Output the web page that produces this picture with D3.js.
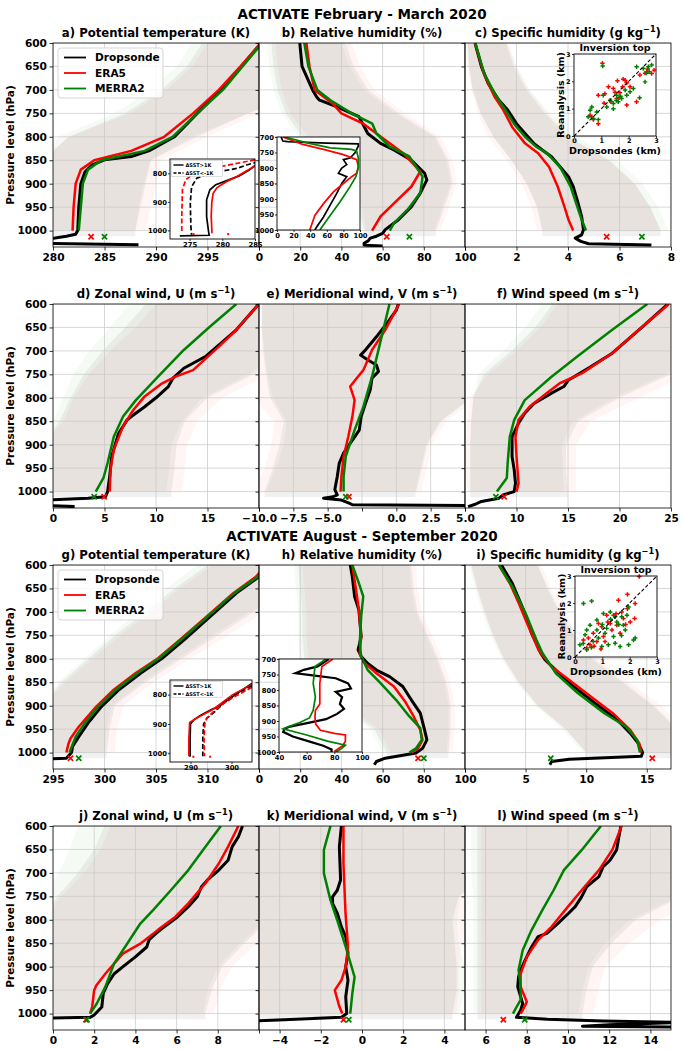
<!DOCTYPE html>
<html><head><meta charset="utf-8">
<script src="https://cdn.jsdelivr.net/npm/d3@7"></script>
<style>body{margin:0;background:#fff}svg{display:block;font-family:"DejaVu Sans",sans-serif;font-weight:bold}</style>
</head><body><svg id="c" width="682" height="1050"></svg>
<script>
// ---------------- DATA ([pressure hPa, value]) ----------------
const pressureTicks=[600,650,700,750,800,850,900,950,1000];
// a) potential temperature Feb-Mar
const aDrop=[[600,300.2],[650,298.3],[700,296.3],[750,294],[800,291.8],[830,289.3],[842,287.6],[849,285],[860,283.8],[875,283.1],[900,282.7],[950,282.5],[1000,282.4],[1008,282.2],[1012,281.3],[1016,280.2],[1019,279],[1027,279],[1030,288.3]];
const aEra=[[600,300.2],[650,298.2],[700,296.1],[750,293.6],[800,290.8],[830,287.6],[850,284],[870,282.7],[900,282.2],[950,282],[1000,281.9]];
const aMerra=[[600,300.3],[650,298.4],[700,296.5],[750,294],[800,291.6],[830,288.9],[850,284.7],[870,283.4],[900,282.9],[950,282.7],[1000,282.5]];
const aMarks=[[1013,283.7],[1013,285]];
const aBand=[[600,294.5,306,295,306,293.5,306],[650,293,306,293.5,306,292,306],[700,290.5,305,291,305.5,289.5,305],[750,287,299,287.5,300,286,299],[800,281.5,294,281.5,295,280.5,293.5],[850,279,289.5,279,290.5,279,289.5],[900,279,289,279,290,279,288.8],[950,279,288.5,279,289.5,279,288.3],[1000,279,288,279,289,279,288],[1012,279,288,279,289,279,288]];
// b) relative humidity Feb-Mar
const bDrop=[[600,19.8],[650,20.9],[680,24],[700,26],[715,28],[722,29.4],[736,37.9],[757,48.5],[793,52.8],[814,59],[828,65.5],[850,74],[878,80.4],[892,81.5],[920,78.3],[949,74],[977,67.7],[998,61.3],[1006,60],[1012,57],[1016,54],[1022,53],[1027,51],[1031,51],[1033,60]];
const bEra=[[600,23],[650,24.5],[700,27],[729,35.7],[750,40],[772,50.6],[807,61.3],[835,70],[874,78.3],[906,74],[942,65.5],[970,59],[1000,54.9]];
const bMerra=[[600,22],[650,24],[700,28.3],[722,34.7],[750,45],[772,55],[793,57],[821,63.4],[842,73],[885,79.4],[920,78.3],[956,72],[984,65.5],[1000,63.5]];
const bMarks=[[1013,62],[1013,73]];
const bBand=[[600,6,42,8,45,4,40],[650,7,46,9,49,5,44],[700,9,53,11,56,7,51],[750,13,68,15,71,11,66],[800,21,86,24,88,19,85],[850,35,92,38,94,33,91],[900,44,94,46,96,42,93],[950,48,90,50,92,46,89],[1000,51,86,52,88,49,85],[1012,51,86,52,88,49,85]];
// c) specific humidity Feb-Mar
const cDrop=[[600,0.39],[651,0.64],[686,0.9],[708,1.15],[722,1.32],[743,1.66],[772,2.0],[793,2.33],[814,2.67],[828,3.0],[842,3.35],[864,3.69],[885,4.02],[906,4.2],[935,4.36],[970,4.53],[998,4.6],[1009,4.53],[1016,4.28],[1023,4.5],[1028,4.8],[1031,7.24]];
const cEra=[[600,0.39],[665,0.73],[715,1.15],[743,1.49],[779,1.83],[814,2.33],[835,2.84],[864,3.26],[906,3.6],[949,3.86],[977,4.02],[1000,4.2]];
const cMerra=[[600,0.4],[665,0.75],[708,1.15],[736,1.49],[772,1.9],[800,2.33],[821,2.76],[835,3.18],[864,3.69],[906,4.1],[949,4.36],[977,4.53],[1000,4.7]];
const cMarks=[[1013,5.5],[1013,6.87]];
const cBand=[[600,0.1,1.6,0.05,1.7,0.1,1.6],[650,0.15,1.9,0.1,2.0,0.15,2.0],[700,0.3,2.4,0.25,2.5,0.3,2.5],[750,0.6,3.1,0.5,3.2,0.6,3.3],[800,1.1,4.0,0.9,4.1,1.1,4.3],[850,1.8,5.6,1.6,5.6,1.8,5.9],[900,2.4,6.6,2.2,6.6,2.4,6.9],[950,2.8,7.2,2.6,7.2,2.8,7.5],[1000,3.0,7.6,2.8,7.6,3.0,7.9],[1012,3.0,7.6,2.8,7.6,3.0,7.9]];
// d) zonal wind Feb-Mar
const dDrop=[[602,19.9],[655,17.8],[712,14.8],[737,12.7],[758,11.65],[776,11.2],[800,10],[819,8.9],[840,7.6],[847,7.2],[876,6.36],[925,5.7],[968,5.5],[1000,5.3],[1011,5.1],[1014,3.4],[1018,-0.5],[1030,-0.5],[1032,2.1]];
const dEra=[[600,20],[655,17.8],[691,16.1],[741,13.6],[755,11.9],[769,10.6],[797,8.9],[826,7.8],[861,6.8],[911,5.9],[950,5.6],[1000,5.5]];
const dMerra=[[600,17.8],[648,15.25],[698,12.7],[755,10.2],[805,8.05],[840,6.8],[883,5.9],[939,5.3],[971,4.9],[1000,4.15]];
const dMarks=[[1011,4.96],[1011,4.0]];
const dBand=[[600,9,25,10,25,7.5,25],[650,7,25,8,25,5.5,25],[700,4.8,24,5.5,25,3.5,22.5],[750,3,19.5,3.5,21,2,19],[800,1.7,15,2,16.5,1,14.5],[850,0.6,12.8,1,14,0,12.5],[900,-1,12,-1,13,-1,11.5],[950,-1,11.8,-1,12.8,-1,11.3],[1000,-1,11.5,-1,12.5,-1,11],[1012,-1,11.5,-1,12.5,-1,11]];
// e) meridional wind Feb-Mar
const eDrop=[[600,0.15],[613,0],[634,-0.5],[670,-1.45],[698,-2.25],[709,-2.6],[719,-2.1],[730,-1.45],[744,-1.3],[758,-1.77],[783,-1.9],[812,-2.25],[840,-2.56],[869,-2.7],[897,-3.36],[918,-3.84],[940,-4.16],[968,-4.3],[996,-4.48],[1007,-4.3],[1011,-4.6],[1014,-5.3],[1018,-4],[1025,-3.4],[1028,-3.2],[1030,5.5]];
const eEra=[[600,0.2],[655,-0.8],[698,-1.77],[741,-2.4],[755,-2.8],[776,-3.36],[790,-3.2],[805,-3.04],[840,-3.2],[883,-3.5],[925,-3.84],[968,-4],[1000,-4.06]];
const eMerra=[[600,-0.5],[677,-1.13],[755,-1.77],[819,-2.4],[869,-3.04],[925,-3.68],[968,-3.84],[1000,-3.84]];
const eMarks=[[1011,-3.45],[1011,-3.68]];
const eBand=[[600,-9.8,6,-9.8,6,-9.8,6],[650,-9.8,6,-9.8,6,-9.8,6],[700,-9.7,6,-9.9,6,-9.6,6],[750,-9.5,6,-10.5,6,-9.4,6],[800,-9.2,5.5,-10.5,6,-9,5.5],[850,-8.2,3.2,-8.9,3.6,-8,3.3],[900,-8.5,2.2,-9.1,2.6,-8.2,2.3],[950,-9,1.8,-9.6,2.2,-8.8,1.9],[1000,-9.6,1.4,-10.5,1.8,-9.5,1.5],[1012,-9.6,1.4,-10.5,1.8,-9.5,1.5]];
// f) wind speed Feb-Mar
const fDrop=[[602,24.6],[648,22.25],[705,19.3],[734,17.2],[762,15.06],[776,14.6],[790,13.4],[812,11.7],[833,10.8],[854,10.2],[883,9.57],[925,9.57],[954,9.78],[982,9.9],[1000,9.78],[1007,8.7],[1014,8.3],[1021,6.6],[1027,6],[1032,5.3]];
const fEra=[[600,24.8],[648,22.25],[705,19.3],[748,16.33],[769,14.2],[790,12.95],[819,11.26],[847,10.2],[883,9.9],[925,10],[954,10.1],[982,10.2],[1000,10]];
const fMerra=[[600,22.7],[655,19.3],[712,15.9],[755,13.4],[805,10.8],[847,9.78],[883,9.35],[940,9.14],[971,9.06],[1000,8.1]];
const fMarks=[[1011,8.8],[1011,8.0]];
const fBand=[[600,13.5,27,14,27,12.5,27],[650,11.8,27,12.3,27,10.8,27],[700,9.5,27,10,27,8.7,27],[750,6.8,25,7.2,26.5,6.3,24.5],[800,5.8,20,5.5,22,5.8,19.5],[850,5.6,16,5.2,17.2,5.6,15.5],[900,5.5,14.8,5.1,15.8,5.5,14.4],[950,5.5,14.8,5.1,15.8,5.5,14.5],[1000,5.5,15,5.2,15.8,5.5,14.6],[1012,5.5,15,5.2,15.8,5.5,14.6]];
// g) potential temperature Aug-Sep
const gDrop=[[600,316],[625,315],[660,312.8],[710,310.25],[760,307.7],[799,305.6],[831,303.5],[866,301.4],[902,299.7],[937,298.4],[966,297.5],[987,296.9],[1000,296.8],[1012,296.3],[1014,294]];
const gEra=[[600,315.7],[625,314.7],[660,312.5],[710,309.9],[760,307.3],[799,305.2],[831,303],[866,300.9],[902,299.2],[945,297.5],[970,296.7],[981,296.5],[1000,296.3]];
const gMerra=[[600,315.8],[625,314.9],[660,312.6],[710,310],[760,307.4],[799,305.3],[831,303.2],[866,301.1],[902,299.4],[937,298.1],[966,297.2],[994,296.7],[1000,296.6]];
const gMarks=[[1012,296.7],[1012,297.5]];
const gBand=[[600,310,320,310.5,320,309,320],[650,306.8,320,307.3,320,306,320],[700,304,314.5,304.5,315.5,303.3,314],[750,301,311,301.5,312,300.5,310.5],[800,298.4,307.5,298.8,308.3,298,307],[850,295.8,304,296.2,304.8,295.5,303.6],[900,294,301,294,301.8,294,300.7],[950,294,300.5,294,301.2,294,300.2],[1000,294,300.2,294,301,294,300],[1012,294,300.2,294,301,294,300]];
// h) relative humidity Aug-Sep
const hDrop=[[600,44.3],[625,45.3],[667,46.4],[696,48.5],[753,49.6],[781,48.1],[795,49.6],[810,52.8],[824,57],[838,63.4],[859,69.8],[888,74],[916,78.3],[952,80.4],[973,81.5],[991,79.4],[1001,76.2],[1012,61.3],[1019,57],[1026,56]];
const hEra=[[600,45.3],[650,47],[696,48.5],[753,49.6],[788,48.9],[806,50.6],[831,57],[859,65.5],[891,70.9],[923,75.1],[952,78.3],[973,79.4],[991,77.2],[1000,74]];
const hMerra=[[600,45.3],[639,48.5],[667,50.6],[710,49.6],[767,48.9],[795,49.6],[824,52.8],[852,59],[888,66.6],[923,73],[948,78.3],[973,79],[991,76.2],[1000,73]];
const hMarks=[[1012,77.2],[1012,80]];
const hBand=[[600,19,74,21,76,17,73],[650,20,75,22,77,18,74],[700,21,77,23,79,19,76],[750,21,82,23,84,19,81],[800,22,87,24,89,20,86],[850,28,91,30,93,26,90],[900,40,93,42,95,38,92],[950,56,93,58,95,54,92],[1000,62,92,64,94,60,91],[1012,62,92,64,94,60,91]];
// i) specific humidity Aug-Sep
const iDrop=[[600,3.0],[639,3.9],[682,4.6],[717,5.16],[746,5.5],[767,5.9],[788,6.25],[802,6.6],[824,7.5],[859,8.95],[895,10.76],[930,12.56],[959,13.65],[980,14.3],[1000,14.66],[1008,14.55],[1014,8.6],[1019,7.15],[1026,7]];
const iEra=[[600,2.8],[639,3.7],[682,4.45],[717,5.0],[781,6.06],[817,7.15],[845,8.6],[881,10.4],[916,12.2],[952,13.65],[980,14.37],[1000,14.55]];
const iMerra=[[600,2.8],[646,3.9],[703,5.0],[760,5.9],[788,6.4],[831,7.5],[873,9.3],[916,11.5],[945,13.3],[973,14.2],[1000,14.44]];
const iMarks=[[1012,15.45],[1012,7.08]];
const iBand=[[600,0.5,6,0.5,6.3,0.3,6],[650,1,6.8,1,7.1,0.8,6.9],[700,1.6,7.8,1.6,8.2,1.4,8],[750,2.3,9,2.3,9.4,2.1,9.2],[800,3.2,10.5,3.2,11,3,10.7],[850,4.4,13,4.4,13.6,4.2,13.2],[900,6,15.5,6,16.2,5.8,15.7],[950,8.3,17.5,8.3,18,8,17.5],[1000,10,18,10,18,9.8,18],[1012,10,18,10,18,9.8,18]];
// j) zonal wind Aug-Sep
const jDrop=[[600,9.2],[623,9.0],[644,8.7],[673,8.5],[694,8.05],[715,7.5],[730,7.2],[751,7.0],[772,6.57],[794,6.04],[815,5.4],[829,5.0],[843,4.66],[858,4.55],[879,4.0],[900,3.4],[915,2.97],[936,2.65],[957,2.44],[986,2.37],[1003,2.0],[1008,1.8],[1010,-0.5]];
const jEra=[[600,9.0],[644,8.5],[680,8.05],[722,7.4],[765,6.57],[794,5.93],[822,5.08],[851,4.24],[872,3.39],[915,2.54],[940,2.1],[950,2.0],[986,1.9],[1000,1.8]];
const jMerra=[[600,8.15],[644,7.4],[694,6.57],[737,5.72],[779,4.87],[808,4.24],[851,3.6],[893,2.97],[943,2.54],[979,2.12],[1000,1.8]];
const jMarks=[[1013,1.6],[1013,1.65]];
const jBand=[[600,2.5,12,2.8,12,1.2,12],[650,2,12,2.3,12,0.8,12],[700,1.2,12,1.5,12,0.3,12],[750,0.2,11,0.4,11.5,-0.5,11],[800,-0.5,10.5,-0.5,11.2,-0.5,10.3],[850,-0.5,9.3,-0.5,9.9,-0.5,9.1],[900,-0.5,8.2,-0.5,8.7,-0.5,8],[950,-0.5,7.7,-0.5,8.1,-0.5,7.5],[1000,-0.5,7.4,-0.5,7.8,-0.5,7.3],[1012,-0.5,7.4,-0.5,7.8,-0.5,7.3]];
// k) meridional wind Aug-Sep
const kDrop=[[600,-1.0],[644,-1.1],[715,-1.04],[737,-1.2],[751,-1.43],[765,-1.43],[786,-1.2],[815,-1.0],[836,-0.79],[872,-0.68],[900,-0.79],[929,-0.68],[964,-0.79],[1000,-0.74],[1008,-1.0],[1013,-3.77],[1016,-5.5]];
const kEra=[[600,-0.9],[680,-0.9],[786,-0.8],[858,-0.68],[900,-0.79],[929,-1.0],[950,-1.32],[985,-1.1],[1000,-0.96]];
const kMerra=[[600,-1.53],[651,-1.85],[701,-1.85],[758,-1.53],[801,-1.2],[858,-0.79],[922,-0.36],[957,-0.47],[1000,-0.57]];
const kMarks=[[1013,-0.9],[1013,-0.64]];
const kBand=[[600,-6,6,-6,6,-6,6],[650,-6,6,-6,6,-6,6],[700,-6,6,-6,6,-6,6],[750,-6,4.7,-6,5.5,-6,4.8],[800,-6,4.4,-6,5.2,-6,4.6],[850,-6,4.5,-6,4.8,-6,4.7],[900,-6,4.6,-6,4.7,-6,5],[950,-6,4.6,-6,4.7,-6,5],[1000,-6,4.4,-6,4.6,-6,4.7],[1012,-6,4.4,-6,4.6,-6,4.7]];
// l) wind speed Aug-Sep
const lDrop=[[600,12.57],[625,12.46],[651,12.36],[673,12.04],[687,11.7],[708,11.5],[730,10.9],[751,10.66],[772,10.35],[786,10.03],[808,9.5],[829,8.97],[836,8.55],[858,8.23],[886,7.92],[907,7.7],[922,7.6],[943,7.56],[964,7.7],[979,7.8],[993,7.7],[1008,7.5],[1012,9],[1016,11.7],[1019,15.5],[1024,12],[1027,10.7],[1029,15.5]];
const lEra=[[600,12.6],[651,12.15],[694,11.5],[737,10.66],[772,10.0],[815,9.2],[843,8.55],[879,8.0],[915,7.7],[943,7.7],[964,7.9],[975,8.0],[993,7.8],[1000,7.7]];
const lMerra=[[600,11.6],[651,10.67],[694,9.8],[737,9.3],[779,8.76],[822,8.23],[865,7.8],[907,7.6],[943,7.7],[971,7.7],[986,7.5],[1000,7.33]];
const lMarks=[[1013,6.86],[1013,7.9]];
const lBand=[[600,5.6,17,5.8,17,5.3,17],[650,5.6,17,5.8,17,5.3,17],[700,5.6,17,5.8,17,5.3,17],[750,5.6,15.5,5.8,16.5,5.4,15.3],[800,5.6,13.3,5.8,14.5,5.4,13],[850,5.6,12.1,5.8,13,5.4,11.8],[900,5.6,11.2,5.8,11.8,5.4,11],[950,5.6,10.9,5.8,11.5,5.4,10.7],[1000,5.6,10.7,5.8,11.2,5.4,10.5],[1012,5.6,10.7,5.8,11.2,5.4,10.5]];

// inset a (theta by SST class, Feb-Mar)
const insA_dropWarm=[[765,285.5],[790,284],[810,282.5],[823,281],[840,279],[858,278.1],[893,277.6],[952,277.6],[1004,277.9],[1017,278],[1019,273.5]];
const insA_eraWarm=[[768,285.5],[790,283.8],[810,282.3],[830,280.6],[850,279.2],[870,278.6],[900,278.4],[950,278.3],[1000,278.4],[1010,278.4]];
const insA_dropCold=[[760,285.5],[771,283.7],[783,282.2],[800,278.1],[817,276.1],[847,275.3],[905,275.1],[987,275.2],[1015,275.3]];
const insA_eraCold=[[753,285],[777,279.6],[794,276.1],[823,274.4],[858,273.9],[952,273.8],[1010,273.8]];
const insA_dots=[[1013,275.6],[1013,280.9]];
// inset b (RH, Feb-Mar)
const insB_drop=[[700,5],[713,7],[715,13],[720,60],[722,98],[729,98],[751,94],[768,88],[773,80],[789,84],[800,78],[817,74],[828,84],[850,78],[882,72],[920,64],[958,56],[991,47.6],[1000,45.6]];
const insB_era=[[700,7],[724,31],[740,56],[757,80],[773,96],[795,98],[817,96],[828,90],[850,80],[877,68],[915,56],[953,45.6],[1000,39.5]];
const insB_merra=[[700,9],[718,35],[735,64],[740,90],[746,96],[768,98],[800,98],[828,95],[860,88],[909,76],[953,64],[1000,51.6]];
// inset c (inversion top, Feb-Mar) [dropsonde km, reanalysis km]
const invC_era=[[1.04,2.66],[1.59,2.02],[1.87,2.04],[1.93,1.95],[1.78,1.8],[2.05,1.8],[1.44,1.74],[1.68,1.58],[1.13,1.55],[0.89,1.49],[1.35,1.25],[1.56,1.37],[1.93,1.13],[2.29,1.25],[2.41,2.23],[2.66,2.35],[2.84,2.29],[2.93,2.41],[0.59,0.76],[0.71,0.6],[0.89,0.45],[1.26,1.8],[1.8,2.08],[1.5,1.6],[2.6,2.3],[0.65,0.7],[1.1,1.2],[2.7,2.45],[1.65,1.4]];
const invC_merra=[[1.05,2.56],[0.65,1.06],[0.59,0.94],[0.83,0.88],[1.2,1.06],[1.44,1.0],[1.62,1.25],[1.74,1.37],[1.93,1.49],[2.05,1.62],[2.29,2.53],[2.54,2.47],[2.72,2.53],[2.84,2.6],[2.6,1.98],[1.87,1.68],[1.56,1.49],[1.32,1.31],[1.07,1.49],[0.71,0.64],[0.89,0.6],[1.44,1.19],[2.17,1.74],[0.52,0.7],[2.65,2.3],[2.75,2.35],[1.7,1.45],[1.55,1.3],[2.4,1.4]];
// inset g (theta by SST class, Aug-Sep)
const insG_dropWarm=[[762,305],[795,301.4],[840,297],[852,295],[870,292.5],[885,290.9],[900,290],[950,289.9],[1000,289.9],[1012,289.9]];
const insG_eraWarm=[[765,305],[800,300.3],[852,295.3],[884,291],[895,289.8],[950,289.6],[1000,289.6],[1010,289.6]];
const insG_dropCold=[[770,305],[800,301],[830,298],[860,295.8],[880,294],[900,293.2],[950,293],[1000,293],[1010,293]];
const insG_eraCold=[[775,305],[805,301],[835,297.5],[860,295.5],[880,294],[900,293.5],[950,293.3],[1000,293.4],[1010,293.4]];
const insG_dots=[[1012,290.7],[1012,294.8]];
// inset h (RH, Aug-Sep)
const insH_drop=[[700,76],[724,68],[735,58],[746,52],[751,61.5],[762,81],[779,90],[795,92],[806,81],[823,85.6],[845,84],[861,87],[877,82],[894,74],[905,62],[918,48],[925,44],[935,43],[950,50],[965,61],[980,72],[992,78],[1000,78]];
const insH_era=[[700,79],[724,71],[779,69.5],[845,69.5],[866,66.3],[888,66],[910,66.5],[930,70],[940,80],[945,88],[965,88],[980,86],[998,80]];
const insH_merra=[[700,74],[724,66],[779,64.7],[823,66.3],[866,64.7],[890,62],[905,55],[918,47],[925,43],[945,60],[965,75],[978,88],[990,85],[1000,81]];
// inset i (inversion top, Aug-Sep)
const invI_era=[[1.92,2.32],[1.59,2.1],[2.2,1.98],[1.92,1.79],[1.16,1.55],[1.41,1.55],[1.77,1.43],[2.18,1.43],[0.86,1.24],[1.29,1.24],[1.53,1.18],[1.65,0.88],[0.67,0.88],[1.04,0.76],[0.31,0.63],[0.55,0.45],[0.8,0.57],[1.35,1.0],[0.49,0.7],[0.98,1.12],[1.71,1.67],[1.1,0.57],[2.02,1.3],[0.43,0.33],[2.35,2.98],[1.2,1.3],[0.7,0.4],[1.5,1.6],[1.85,1.2],[0.95,0.3]];
const invI_merra=[[0.31,1.98],[0.61,2.07],[1.04,1.61],[1.29,1.67],[1.47,1.49],[1.71,1.49],[1.9,1.55],[1.96,1.85],[0.55,1.18],[0.8,1.0],[1.16,1.06],[1.53,1.3],[1.77,1.18],[0.37,0.82],[0.67,0.57],[0.98,0.39],[1.22,0.45],[1.47,0.51],[1.65,0.39],[2.14,0.63],[2.2,0.7],[0.18,0.45],[0.43,0.27],[0.86,0.7],[1.1,0.88],[1.84,1.0],[1.41,0.76],[0.43,1.0],[1.96,0.45],[0.8,1.37],[1.3,1.4],[1.6,1.2],[0.6,0.35],[1.0,1.2],[1.7,0.8],[0.3,0.5]];

// ---------------- LAYOUT ----------------
const svg=d3.select('#c');
const COLX=[53,259,465], PW=206, PH=204, ROWY=[43,304,565,826];
const YDOM=[600,1035];
const CK='#000', CR='#ff0000', CG='#008000';
const FS=10.6;

const panels=[
 {key:'a',col:0,row:0,xdom:[280,300],xt:[280,285,290,295,300],xl:['280','285','290','295',''],t:['a) Potential temperature (K)'],drop:aDrop,era:aEra,mer:aMerra,band:aBand,mk:aMarks,legend:true},
 {key:'b',col:1,row:0,xdom:[0,100],xt:[0,20,40,60,80,100],xl:['0','20','40','60','80','100'],t:['b) Relative humidity (%)'],drop:bDrop,era:bEra,mer:bMerra,band:bBand,mk:bMarks},
 {key:'c',col:2,row:0,xdom:[0,8],xt:[0,2,4,6,8],xl:['','2','4','6','8'],t:['c) Specific humidity (g kg','−1',')'],drop:cDrop,era:cEra,mer:cMerra,band:cBand,mk:cMarks},
 {key:'d',col:0,row:1,xdom:[0,20],xt:[0,5,10,15,20],xl:['0','5','10','15',''],t:['d) Zonal wind, U (m s','−1',')'],drop:dDrop,era:dEra,mer:dMerra,band:dBand,mk:dMarks},
 {key:'e',col:1,row:1,xdom:[-10,5],xt:[-10,-7.5,-5,-2.5,0,2.5,5],xl:['−10.0','−7.5','−5.0','','0.0','2.5','5.0'],t:['e) Meridional wind, V (m s','−1',')'],drop:eDrop,era:eEra,mer:eMerra,band:eBand,mk:eMarks},
 {key:'f',col:2,row:1,xdom:[5,25],xt:[5,10,15,20,25],xl:['','10','15','20','25'],t:['f) Wind speed (m s','−1',')'],drop:fDrop,era:fEra,mer:fMerra,band:fBand,mk:fMarks},
 {key:'g',col:0,row:2,xdom:[295,315],xt:[295,300,305,310,315],xl:['295','300','305','310',''],t:['g) Potential temperature (K)'],drop:gDrop,era:gEra,mer:gMerra,band:gBand,mk:gMarks,legend:true},
 {key:'h',col:1,row:2,xdom:[0,100],xt:[0,20,40,60,80,100],xl:['0','20','40','60','80','100'],t:['h) Relative humidity (%)'],drop:hDrop,era:hEra,mer:hMerra,band:hBand,mk:hMarks},
 {key:'i',col:2,row:2,xdom:[0,17],xt:[0,5,10,15],xl:['','5','10','15'],t:['i) Specific humidity (g kg','−1',')'],drop:iDrop,era:iEra,mer:iMerra,band:iBand,mk:iMarks},
 {key:'j',col:0,row:3,xdom:[0,10],xt:[0,2,4,6,8,10],xl:['0','2','4','6','8',''],t:['j) Zonal wind, U (m s','−1',')'],drop:jDrop,era:jEra,mer:jMerra,band:jBand,mk:jMarks},
 {key:'k',col:1,row:3,xdom:[-5,5],xt:[-4,-2,0,2,4],xl:['−4','−2','0','2','4'],t:['k) Meridional wind, V (m s','−1',')'],drop:kDrop,era:kEra,mer:kMerra,band:kBand,mk:kMarks},
 {key:'l',col:2,row:3,xdom:[5,15],xt:[6,8,10,12,14],xl:['6','8','10','12','14'],t:['l) Wind speed (m s','−1',')'],drop:lDrop,era:lEra,mer:lMerra,band:lBand,mk:lMarks}
];

function styleAxis(ax,fs){
  ax.select('.domain').remove();
  ax.attr('font-family',null).attr('font-size',null);
  ax.selectAll('text').attr('font-size',fs).attr('font-weight','bold').attr('fill','#000').attr('font-family','DejaVu Sans');
  ax.selectAll('line').attr('stroke','#000').attr('stroke-width',0.8);
}
function xMark(g,x,y,c){
  const s=2.6;
  g.append('path').attr('d',`M${x-s},${y-s}L${x+s},${y+s}M${x-s},${y+s}L${x+s},${y-s}`).attr('stroke',c).attr('stroke-width',1.7).attr('fill','none');
}
function drawTitleText(g,parts,cx,cy,fs){
  const t=g.append('text').attr('x',cx).attr('y',cy).attr('text-anchor','middle').attr('font-size',fs).attr('font-weight','bold');
  t.append('tspan').text(parts[0]);
  if(parts.length>1){
    t.append('tspan').attr('dy',-5).attr('font-size',fs*0.7).text(parts[1]);
    t.append('tspan').attr('dy',5).text(parts[2]);
  }
}

function drawPanel(p){
  const x0=COLX[p.col], y0=ROWY[p.row];
  const x=d3.scaleLinear().domain(p.xdom).range([x0,x0+PW]);
  const y=d3.scaleLinear().domain(YDOM).range([y0,y0+PH]);
  const id='clip'+p.key;
  svg.append('clipPath').attr('id',id).append('rect').attr('x',x0).attr('y',y0).attr('width',PW).attr('height',PH);
  const g=svg.append('g');
  const cg=g.append('g').attr('clip-path',`url(#${id})`);
  // spread bands
  [{i:1,c:'#000',o:0.055,all:true},{i:3,c:CR,o:0.04},{i:5,c:CG,o:0.04}].forEach(b=>{
    const rows=b.all?p.band:p.band.filter(r=>r[0]<=1000);
    cg.append('path').datum(rows).attr('fill',b.c).attr('fill-opacity',b.o)
      .attr('d',d3.area().y(r=>y(r[0])).x0(r=>x(r[b.i])).x1(r=>x(r[b.i+1])));
  });
  // grid
  pressureTicks.forEach(t=>cg.append('line').attr('x1',x0).attr('x2',x0+PW).attr('y1',y(t)).attr('y2',y(t)).attr('stroke','#c8c8c8').attr('stroke-opacity',0.7).attr('stroke-width',1));
  p.xt.forEach(t=>cg.append('line').attr('x1',x(t)).attr('x2',x(t)).attr('y1',y0).attr('y2',y0+PH).attr('stroke','#c8c8c8').attr('stroke-opacity',0.7).attr('stroke-width',1));
  // profiles
  const line=d3.line().x(d=>x(d[1])).y(d=>y(d[0]));
  cg.append('path').datum(p.drop).attr('d',line).attr('fill','none').attr('stroke',CK).attr('stroke-width',3).attr('stroke-linejoin','round');
  cg.append('path').datum(p.era).attr('d',line).attr('fill','none').attr('stroke',CR).attr('stroke-width',2.5).attr('stroke-linejoin','round');
  cg.append('path').datum(p.mer).attr('d',line).attr('fill','none').attr('stroke',CG).attr('stroke-width',2.5).attr('stroke-linejoin','round');
  xMark(g,x(p.mk[0][1]),y(p.mk[0][0]),CR);
  xMark(g,x(p.mk[1][1]),y(p.mk[1][0]),CG);
  // frame
  g.append('rect').attr('x',x0).attr('y',y0).attr('width',PW).attr('height',PH).attr('fill','none').attr('stroke','#000').attr('stroke-width',0.8);
  // axes
  const ax=g.append('g').attr('transform',`translate(0,${y0+PH})`)
    .call(d3.axisBottom(x).tickValues(p.xt).tickFormat((d,i)=>p.xl[i]).tickSizeInner(3.5).tickSizeOuter(0).tickPadding(2.5));
  styleAxis(ax,FS);
  const ay=g.append('g').attr('transform',`translate(${x0},0)`)
    .call(d3.axisLeft(y).tickValues(pressureTicks).tickFormat(p.col===0?d3.format('d'):()=>'').tickSizeInner(3.5).tickSizeOuter(0).tickPadding(2.5));
  styleAxis(ay,FS);
  // subplot title
  drawTitleText(g,p.t,x0+PW/2,y0-6,11.7);
  if(p.col===0){
    g.append('text').attr('transform',`translate(14,${y0+PH/2}) rotate(-90)`).attr('text-anchor','middle')
      .attr('font-size',10.5).attr('font-weight','bold').text('Pressure level (hPa)');
  }
  if(p.legend){
    const lg=g.append('g');
    lg.append('rect').attr('x',x0+5).attr('y',y0+5).attr('width',105).attr('height',50).attr('rx',3)
      .attr('fill','#fff').attr('fill-opacity',0.8).attr('stroke','#cccccc').attr('stroke-width',0.8);
    [['Dropsonde',CK],['ERA5',CR],['MERRA2',CG]].forEach((e,i)=>{
      const yy=y0+14.5+i*15.5;
      lg.append('line').attr('x1',x0+11).attr('x2',x0+33).attr('y1',yy).attr('y2',yy).attr('stroke',e[1]).attr('stroke-width',1.8);
      lg.append('text').attr('x',x0+42).attr('y',yy+3.8).attr('font-size',FS).attr('font-weight','bold').text(e[0]);
    });
  }
}
panels.forEach(drawPanel);

// row titles
svg.append('text').attr('x',362).attr('y',19).attr('text-anchor','middle').attr('font-size',13.5).attr('font-weight','bold').text('ACTIVATE February - March 2020');
svg.append('text').attr('x',362).attr('y',541).attr('text-anchor','middle').attr('font-size',13.5).attr('font-weight','bold').text('ACTIVATE August - September 2020');

// ---------------- INSETS ----------------
function drawInset(o){
  const x=d3.scaleLinear().domain(o.xdom).range([o.x0,o.x0+o.w]);
  const y=d3.scaleLinear().domain(o.ydom).range([o.y0,o.y0+o.h]);
  const id='ic'+o.key;
  svg.append('clipPath').attr('id',id).append('rect').attr('x',o.x0).attr('y',o.y0).attr('width',o.w).attr('height',o.h);
  const g=svg.append('g');
  g.append('rect').attr('x',o.x0).attr('y',o.y0).attr('width',o.w).attr('height',o.h).attr('fill','#fff');
  const cg=g.append('g').attr('clip-path',`url(#${id})`);
  const line=d3.line().x(d=>x(d[1])).y(d=>y(d[0]));
  o.series.forEach(s=>cg.append('path').datum(s.d).attr('d',line).attr('fill','none').attr('stroke',s.c)
     .attr('stroke-width',s.w||1.7).attr('stroke-dasharray',s.dash||null));
  (o.dots||[]).forEach(d=>cg.append('rect').attr('x',x(d[1])-1).attr('y',y(d[0])-1).attr('width',2).attr('height',2).attr('fill',CR));
  g.append('rect').attr('x',o.x0).attr('y',o.y0).attr('width',o.w).attr('height',o.h).attr('fill','none').attr('stroke','#000').attr('stroke-width',0.9);
  const ax=g.append('g').attr('transform',`translate(0,${o.y0+o.h})`).call(d3.axisBottom(x).tickValues(o.xt).tickFormat(d3.format('d')).tickSizeInner(2).tickSizeOuter(0).tickPadding(1));
  styleAxis(ax,6.8);
  const ay=g.append('g').attr('transform',`translate(${o.x0},0)`).call(d3.axisLeft(y).tickValues(o.yt).tickFormat(d3.format('d')).tickSizeInner(2).tickSizeOuter(0).tickPadding(1));
  styleAxis(ay,6.8);
  if(o.legend){
    const lx=o.x0+1.5, ly=o.y0+1.5;
    g.append('rect').attr('x',lx).attr('y',ly).attr('width',51).attr('height',16).attr('fill','#fff').attr('stroke','#bbb').attr('stroke-width',0.5);
    [['ΔSST>1K',null],['ΔSST<-1K','3,1.5']].forEach((e,i)=>{
      const yy=ly+4.5+i*8;
      g.append('line').attr('x1',lx+2).attr('x2',lx+12).attr('y1',yy).attr('y2',yy).attr('stroke','#000').attr('stroke-width',1.4).attr('stroke-dasharray',e[1]);
      g.append('text').attr('x',lx+14).attr('y',yy+2).attr('font-size',5).attr('font-weight','bold').text(e[0]);
    });
  }
}
function drawScatter(o){
  const x=d3.scaleLinear().domain([0,3]).range([o.x0,o.x0+o.w]);
  const y=d3.scaleLinear().domain([0,3]).range([o.y0+o.h,o.y0]);
  const g=svg.append('g');
  g.append('rect').attr('x',o.x0).attr('y',o.y0).attr('width',o.w).attr('height',o.h).attr('fill','#fff');
  const sym=d3.symbol().type(d3.symbolCross).size(11);
  o.era.forEach(d=>g.append('path').attr('d',sym).attr('transform',`translate(${x(d[0])},${y(d[1])})`).attr('fill',CR));
  o.mer.forEach(d=>g.append('path').attr('d',sym).attr('transform',`translate(${x(d[0])},${y(d[1])})`).attr('fill',CG));
  g.append('line').attr('x1',x(0)).attr('y1',y(0)).attr('x2',x(3)).attr('y2',y(3)).attr('stroke','#000').attr('stroke-width',1.1).attr('stroke-dasharray','3.5,2');
  g.append('rect').attr('x',o.x0).attr('y',o.y0).attr('width',o.w).attr('height',o.h).attr('fill','none').attr('stroke','#000').attr('stroke-width',0.9);
  const ax=g.append('g').attr('transform',`translate(0,${o.y0+o.h})`).call(d3.axisBottom(x).tickValues([0,1,2,3]).tickFormat(d3.format('d')).tickSizeInner(2).tickSizeOuter(0).tickPadding(0.5));
  styleAxis(ax,6.5);
  const ay=g.append('g').attr('transform',`translate(${o.x0},0)`).call(d3.axisLeft(y).tickValues([0,1,2,3]).tickFormat(d3.format('d')).tickSizeInner(2).tickSizeOuter(0).tickPadding(1.5));
  styleAxis(ay,6.5);
  g.append('text').attr('x',o.x0+o.w/2).attr('y',o.y0-3).attr('text-anchor','middle').attr('font-size',9.5).attr('font-weight','bold').text('Inversion top');
  g.append('text').attr('x',o.x0+o.w/2).attr('y',o.y0+o.h+17.5).attr('text-anchor','middle').attr('font-size',9.5).attr('font-weight','bold').text('Dropsondes (km)');
  g.append('text').attr('transform',`translate(${o.x0-10},${o.y0+o.h/2}) rotate(-90)`).attr('text-anchor','middle').attr('font-size',9.5).attr('font-weight','bold').text('Reanalysis (km)');
}

drawInset({key:'a',x0:170,y0:159,w:85,h:80,xdom:[272,285],ydom:[750,1030],xt:[275,280,285],yt:[800,900,1000],legend:true,dots:insA_dots,
  series:[{d:insA_dropWarm,c:CK},{d:insA_eraWarm,c:CR},{d:insA_dropCold,c:CK,dash:'5,2.5'},{d:insA_eraCold,c:CR,dash:'5,2.5'}]});
drawInset({key:'b',x0:277,y0:137,w:83,h:93,xdom:[0,100],ydom:[700,1000],xt:[0,20,40,60,80,100],yt:[700,750,800,850,900,950,1000],
  series:[{d:insB_drop,c:CK},{d:insB_era,c:CR},{d:insB_merra,c:CG}]});
drawInset({key:'g',x0:170,y0:680,w:82,h:82,xdom:[285,305],ydom:[750,1030],xt:[290,300],yt:[800,900,1000],legend:true,dots:insG_dots,
  series:[{d:insG_dropWarm,c:CK},{d:insG_eraWarm,c:CR},{d:insG_dropCold,c:CK,dash:'5,2.5'},{d:insG_eraCold,c:CR,dash:'5,2.5'}]});
drawInset({key:'h',x0:279,y0:659,w:83,h:93,xdom:[40,100],ydom:[700,1000],xt:[40,60,80,100],yt:[700,750,800,850,900,950,1000],
  series:[{d:insH_drop,c:CK,w:2.2},{d:insH_era,c:CR},{d:insH_merra,c:CG}]});
drawScatter({x0:574,y0:54,w:82,h:82,era:invC_era,mer:invC_merra});
drawScatter({x0:575,y0:576,w:82,h:81,era:invI_era,mer:invI_merra});
</script></body></html>
